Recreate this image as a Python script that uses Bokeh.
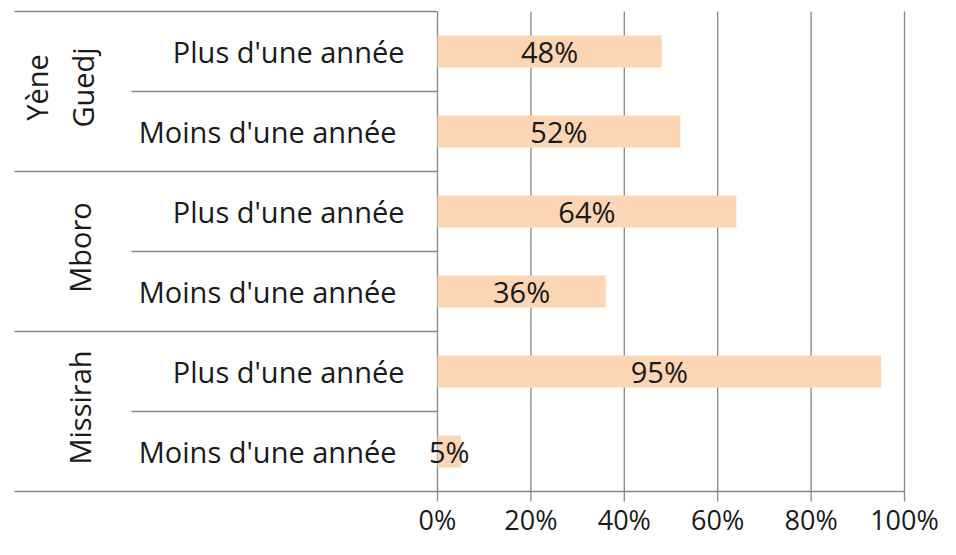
from bokeh.plotting import figure
from bokeh.models import Range1d
from bokeh.embed import file_html
from bokeh.resources import INLINE
from bokeh.core.properties import value
import math

# ---- data ----
groups = ["Yène\nGuedj", "Mboro", "Missirah"]
categories = ["Plus d'une année", "Moins d'une année",
              "Plus d'une année", "Moins d'une année",
              "Plus d'une année", "Moins d'une année"]
values = [0.48, 0.52, 0.64, 0.36, 0.95, 0.05]
value_labels = ["48%", "52%", "64%", "36%", "95%", "5%"]
tick_values = [0.0, 0.2, 0.4, 0.6, 0.8, 1.0]
tick_labels = ["0%", "20%", "40%", "60%", "80%", "100%"]

# ---- layout helpers (pixels -> data) ----
W, H = 940, 539
X0, X100 = 437, 904   # canvas x of 0% and 100%
PX_X = float(X100 - X0)
PX_Y = 80.0           # px per row
Y0 = 491              # canvas y of row-axis bottom
def dx(px):
    return (px - X0) / PX_X
def dy(py):
    return (Y0 - py) / PX_Y

n = len(categories)
FONT = value("Open Sans")
FS = "29px"
LINE = "#878787"
TXT = "#1a1a1a"

p = figure(width=W, height=H, output_backend="svg", toolbar_location=None,
           x_axis_location=None, y_axis_location=None,
           min_border_left=0, min_border_right=0, min_border_top=0, min_border_bottom=0)
p.x_range = Range1d(dx(0), dx(W))
p.y_range = Range1d(dy(H), dy(0))
p.grid.visible = False
p.outline_line_color = None
p.background_fill_color = "white"
p.border_fill_color = "white"

rows_y = [n - i - 0.5 for i in range(n)]

# gridlines + ticks
nt = len(tick_values)
p.segment(x0=tick_values, y0=[0] * nt, x1=tick_values, y1=[n] * nt, line_color=LINE, line_width=1.3)
p.segment(x0=tick_values, y0=[0] * nt, x1=tick_values, y1=[dy(Y0 + 10)] * nt, line_color=LINE, line_width=1.3)

# separators
left_group = dx(14)
left_inner = dx(131)
ng = len(groups)
per = n // ng
sep_x0, sep_y, sep_x1 = [], [], []
for k in range(ng + 1):
    sep_x0.append(left_group); sep_y.append(k * per); sep_x1.append(0 if k > 0 else tick_values[-1])
for k in range(ng):
    for j in range(1, per):
        sep_x0.append(left_inner); sep_y.append(k * per + j); sep_x1.append(0)
p.segment(x0=sep_x0, y0=sep_y, x1=sep_x1, y1=sep_y, line_color=LINE, line_width=1.3)

# bars
p.hbar(y=rows_y, left=0, right=values, height=0.4, fill_color="#FCD5B5", line_color=None)

# value labels
p.text(x=[v / 2 for v in values], y=rows_y, text=value_labels, text_align="center",
       text_baseline="middle", text_font=FONT, text_font_size=FS, text_color=TXT)

# category labels
offs = [0 if c.startswith("Plus") else -8 for c in categories]
p.text(x=[dx(404)] * n, y=rows_y, text=categories, x_offset=offs, text_align="right",
       text_baseline="middle", text_font=FONT, text_font_size=FS, text_color=TXT)

# group labels (rotated)
gy = [n - per * (k + 0.5) + 0.05 for k in range(ng)]
gx = [dx(79 - 20 * g.count("\n")) for g in groups]
p.text(x=gx, y=gy, text=groups, angle=math.pi / 2, text_align="center",
       text_baseline="middle", text_font=FONT, text_font_size=FS, text_color=TXT,
       text_line_height=1.2)

# tick labels
p.text(x=tick_values, y=[dy(519)] * nt, text=tick_labels, text_align="center",
       text_baseline="middle", text_font=FONT, text_font_size="27px", text_color=TXT)

open("out.html", "w").write(file_html(p, INLINE))
